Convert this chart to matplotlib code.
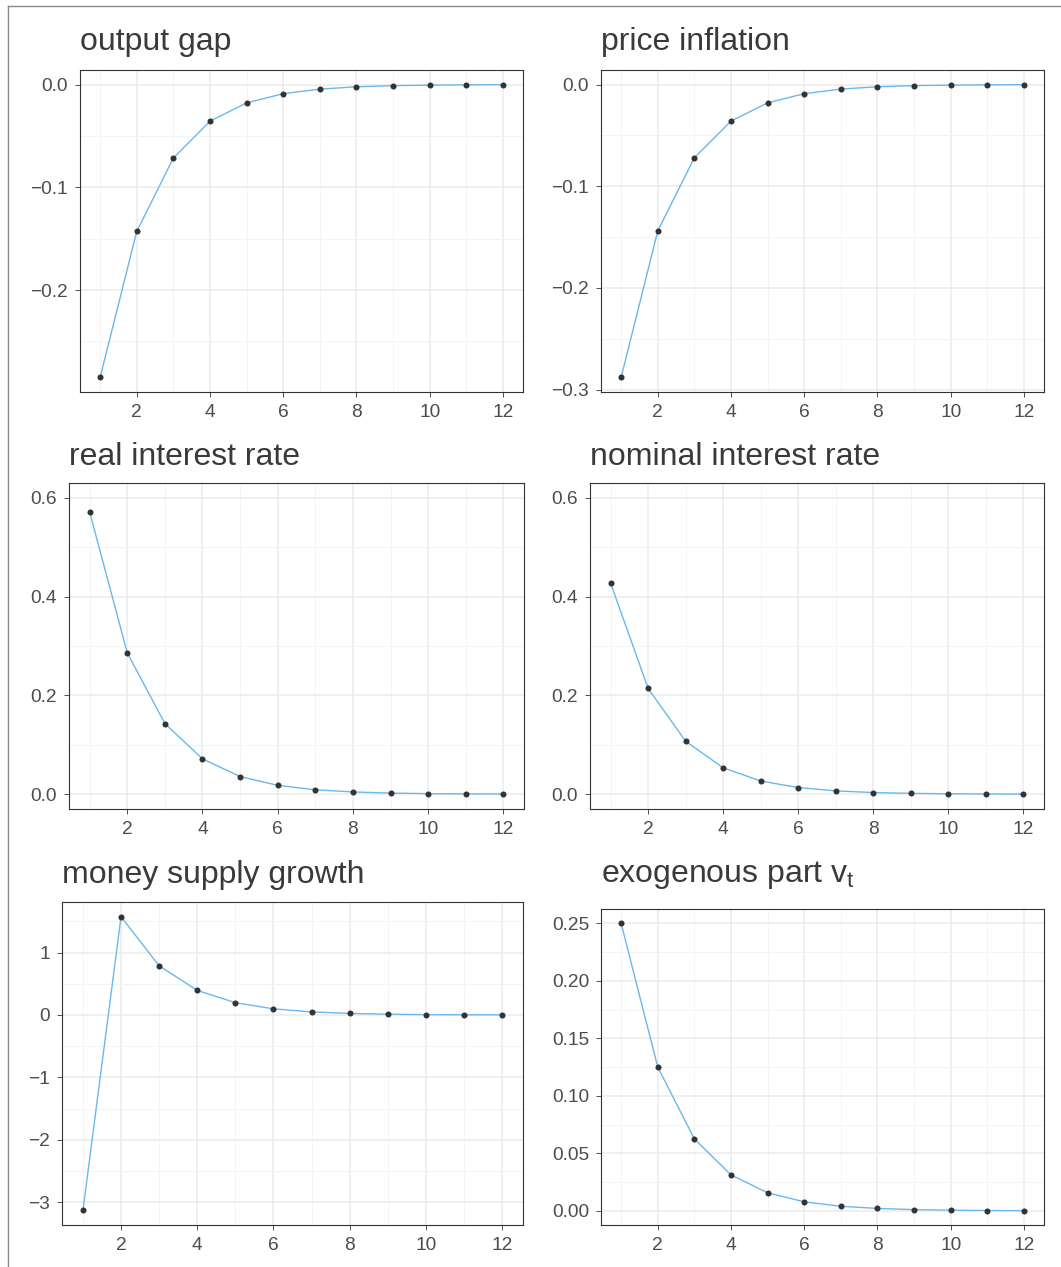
import numpy as np
import matplotlib
matplotlib.use('Agg')
import matplotlib.pyplot as plt
from matplotlib.lines import Line2D
from matplotlib.ticker import MultipleLocator, FuncFormatter

plt.rcParams['font.family'] = ['Liberation Sans', 'DejaVu Sans']
plt.rcParams['mathtext.fontset'] = 'custom'
plt.rcParams['mathtext.rm'] = 'Liberation Sans'
plt.rcParams['mathtext.it'] = 'Liberation Sans'

# impulse responses, periods 1..12
periods = list(range(1, 13))
output_gap = [-0.285, -0.143, -0.0715, -0.0357, -0.0179, -0.0089, -0.0045, -0.0022, -0.0011, -0.0006, -0.0003, -0.0001]
price_inflation = [-0.288, -0.144, -0.072, -0.036, -0.018, -0.009, -0.0045, -0.0022, -0.0011, -0.0006, -0.0003, -0.0001]
real_rate = [0.571, 0.286, 0.143, 0.0714, 0.0357, 0.0179, 0.0089, 0.0045, 0.0022, 0.0011, 0.0006, 0.0003]
nominal_rate = [0.427, 0.214, 0.107, 0.0534, 0.0267, 0.0134, 0.0067, 0.0033, 0.0017, 0.0008, 0.0004, 0.0002]
money_growth = [-3.13, 1.575, 0.787, 0.394, 0.197, 0.098, 0.049, 0.025, 0.012, 0.006, 0.003, 0.002]
exog_v = [0.25, 0.125, 0.0625, 0.03125, 0.0156, 0.0078, 0.0039, 0.002, 0.001, 0.0005, 0.0002, 0.0001]

titles = ['output gap', 'price inflation', 'real interest rate',
          'nominal interest rate', 'money supply growth', r'exogenous part v$_\mathregular{t}$']
series = [output_gap, price_inflation, real_rate, nominal_rate, money_growth, exog_v]

W, H = 1061, 1267
fig = plt.figure(figsize=(W / 100, H / 100), dpi=100)

# panel boxes in pixels: left, right, top, bottom
boxes = [(80, 523, 70, 392), (601, 1044, 70, 392),
         (69, 524, 483, 809), (590, 1044, 483, 809),
         (62, 523, 902, 1225), (601, 1044, 909, 1225)]
title_base = [50, 50, 465, 465, 883, 882]
ylims = [None, None, (0, 0.6), (0, 0.6), None, None]
ymajor = [0.1, 0.1, 0.2, 0.2, 1, 0.05]
yfmt = ['%.1f', '%.1f', '%.1f', '%.1f', '%d', '%.2f']

line_col = '#6BB8EC'
text_col = '#4D4D4D'

for i, (box, title, vals) in enumerate(zip(boxes, titles, series)):
    l, r, t, b = box
    ax = fig.add_axes([l / W, 1 - b / H, (r - l) / W, (b - t) / H])
    ax.plot(periods, vals, color=line_col, lw=1.0, zorder=3)
    ax.scatter(periods, vals, s=19, color='#333333', zorder=4, linewidths=0)

    ax.set_xlim(0.45, 12.55)
    if ylims[i] is None:
        lo, hi = min(vals), max(vals)
    else:
        lo, hi = ylims[i]
    pad = (hi - lo) * 0.05
    ax.set_ylim(lo - pad, hi + pad)

    ax.xaxis.set_major_locator(MultipleLocator(2))
    ax.xaxis.set_minor_locator(MultipleLocator(1))
    ax.yaxis.set_major_locator(MultipleLocator(ymajor[i]))
    ax.yaxis.set_minor_locator(MultipleLocator(ymajor[i] / 2))

    ax.grid(which='major', color='#EBEBEB', lw=1.1, zorder=0)
    ax.grid(which='minor', color='#F3F3F3', lw=0.6, zorder=0)
    ax.set_axisbelow(True)

    for s in ax.spines.values():
        s.set_color('#333333')
        s.set_linewidth(0.8)
    ax.tick_params(which='major', length=3.6, width=0.6, color='#333333',
                   labelsize=13.8, labelcolor=text_col, pad=5)
    ax.tick_params(which='minor', length=0)

    ax.yaxis.set_major_formatter(FuncFormatter(
        lambda v, p, f=yfmt[i]: (f % (round(v) if f == '%d' else v)).replace('-', '\u2212')))

    fig.text(l / W, 1 - title_base[i] / H, title, fontsize=23, color='#3A3A3A',
             ha='left', va='baseline')

# outer frame edges visible in the crop
fig.add_artist(Line2D([8 / W, 8 / W], [0, 1 - 6 / H], color='#8C8C8C', lw=1.0))
fig.add_artist(Line2D([8 / W, 1], [1 - 6 / H, 1 - 6 / H], color='#8C8C8C', lw=1.0))

fig.savefig('out.png', dpi=100)
